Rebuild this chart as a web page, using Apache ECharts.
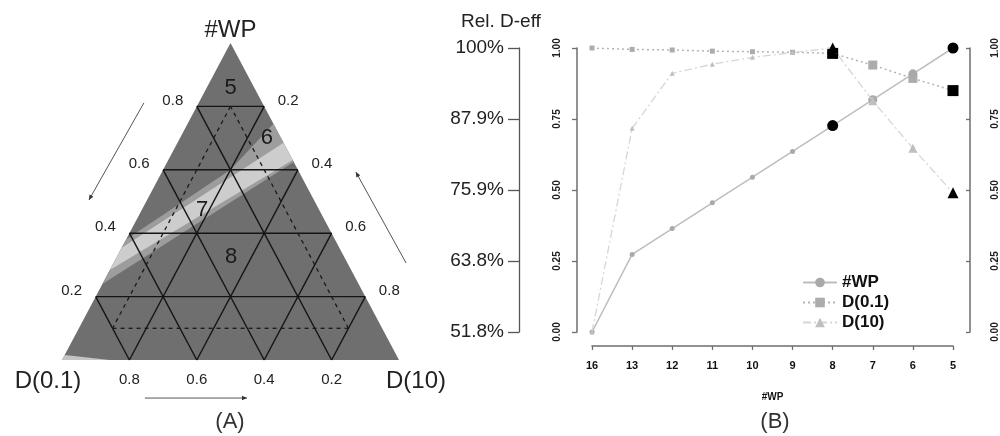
<!DOCTYPE html>
<html><head><meta charset="utf-8">
<script src="https://cdn.jsdelivr.net/npm/echarts@6/dist/echarts.min.js"></script>
<style>html,body{margin:0;padding:0;background:#fff}#c{width:1000px;height:436px}</style>
</head><body><div id="c"></div>
<script>
// ---------- Panel B data ----------
const wpCats = ['16','13','12','11','10','9','8','7','6','5'];
const wpEff  = [0.00, 0.273, 0.364, 0.455, 0.545, 0.636, 0.727, 0.818, 0.909, 1.00];
const d01Eff = [1.00, 0.995, 0.993, 0.989, 0.987, 0.985, 0.981, 0.940, 0.893, 0.850];
const d10Eff = [0.00, 0.717, 0.911, 0.943, 0.967, 0.984, 1.00, 0.814, 0.647, 0.490];
const highlightIdx = [6, 9];
const outerTickLabels = ['51.8%', '63.8%', '75.9%', '87.9%', '100%'];
const seriesNames = ['#WP', 'D(0.1)', 'D(10)'];
// ---------- Panel A data (ternary compositions: [#WP, D(0.1), D(10)]) ----------
const ternTicks = [0.2, 0.4, 0.6, 0.8];
const vertexNames = ['#WP', 'D(0.1)', 'D(10)'];
const bandMid = [[0.745,0,0.255],[0.625,0,0.375],[0.240,0.760,0],[0.379,0.621,0],[0.60,0.20,0.20]];
const bandLight = [[0.685,0,0.315],[0.631,0,0.369],[0.284,0.716,0],[0.353,0.647,0]];
const cornerSliver = [[0,1,0],[0,0.858,0.142],[0.016,0.984,0]];
const feasibleTri = [[0.8,0.1,0.1],[0.1,0.8,0.1],[0.1,0.1,0.8]];
const regionLabels = ['5','6','7','8'];
const regionPos = [[0.858,0.071,0.071],[0.700,0.042,0.258],[0.473,0.348,0.179],[0.325,0.336,0.339]];

// ---------- helpers ----------
const FONT = 'Liberation Sans, Arial, sans-serif';
function tern(p){ return [p[2] + p[0]/2, p[0]]; }

function polySeries(pts, color, z){
  return {type:'custom', xAxisIndex:0, yAxisIndex:0, silent:true, z:z, clip:false,
    data:[tern(pts[0])],
    renderItem:(params, api)=>({type:'polygon', shape:{points: pts.map(p=>api.coord(tern(p)))}, style:{fill:color}})
  };
}
function segSeries(segs, style, z){
  return {type:'custom', xAxisIndex:0, yAxisIndex:0, silent:true, z:z, clip:false,
    data: segs.map(s=>[...tern(s[0]), ...tern(s[1])]),
    encode:{x:[0,2], y:[1,3]},
    renderItem:(params, api)=>{
      const a = api.coord([api.value(0), api.value(1)]);
      const b = api.coord([api.value(2), api.value(3)]);
      return {type:'line', shape:{x1:a[0],y1:a[1],x2:b[0],y2:b[1]}, style:Object.assign({fill:null}, style)};
    }
  };
}
function textSeries(items, fontSize, color, z){
  return {type:'custom', xAxisIndex:0, yAxisIndex:0, silent:true, z:z, clip:false,
    data: items.map(it=>it.pos),
    renderItem:(params, api)=>{
      const it = items[params.dataIndex];
      const c = api.coord(it.pos);
      return {type:'text', x:c[0]+it.dx, y:c[1]+it.dy,
        style:{text:it.text, fill:color, fontSize:fontSize, fontFamily:FONT,
               align:'center', verticalAlign:'middle', textAlign:'center', textVerticalAlign:'middle'}};
    }
  };
}

// grid segments
const gridSegs = [];
ternTicks.forEach(k=>{
  gridSegs.push([[k,1-k,0],[k,0,1-k]]);
  gridSegs.push([[1-k,k,0],[0,k,1-k]]);
  gridSegs.push([[1-k,0,k],[0,1-k,k]]);
});
const dashSegs = [[feasibleTri[0],feasibleTri[1]],[feasibleTri[1],feasibleTri[2]],[feasibleTri[2],feasibleTri[0]]];

// tick labels
const tickItems = [];
ternTicks.forEach(k=>{
  tickItems.push({pos:tern([k,1-k,0]), text:String(k), dx:-24, dy:-6});
  tickItems.push({pos:tern([1-k,0,k]), text:String(k), dx:24, dy:-6});
  tickItems.push({pos:tern([0,k,1-k]), text:String(k), dx:0, dy:20});
});
const vertexItems = [
  {pos:tern([1,0,0]), text:vertexNames[0], dx:0, dy:-13},
  {pos:tern([0,1,0]), text:vertexNames[1], dx:-14, dy:21},
  {pos:tern([0,0,1]), text:vertexNames[2], dx:17, dy:21}
];
const regionItems = regionLabels.map((t,i)=>({pos:tern(regionPos[i]), text:t, dx:0, dy:0}));

// arrows (grid coordinates of panel A)
const arrowSegs = [
  [[0.243,0.811],[0.080,0.505]],
  [[1.021,0.306],[0.872,0.593]],
  [[0.246,-0.12],[0.549,-0.12]]
];
const arrowSeries = {type:'custom', xAxisIndex:0, yAxisIndex:0, silent:true, z:5, clip:false,
  data: arrowSegs.map(s=>[s[0][0],s[0][1],s[1][0],s[1][1]]),
  encode:{x:[0,2], y:[1,3]},
  renderItem:(params, api)=>{
    const a = api.coord([api.value(0), api.value(1)]);
    const b = api.coord([api.value(2), api.value(3)]);
    const ang = Math.atan2(b[1]-a[1], b[0]-a[0]);
    const L = 5, W = 2.2;
    const p1 = [b[0]-L*Math.cos(ang)+W*Math.sin(ang), b[1]-L*Math.sin(ang)-W*Math.cos(ang)];
    const p2 = [b[0]-L*Math.cos(ang)-W*Math.sin(ang), b[1]-L*Math.sin(ang)+W*Math.cos(ang)];
    return {type:'group', children:[
      {type:'line', shape:{x1:a[0],y1:a[1],x2:b[0],y2:b[1]}, style:{stroke:'#555', lineWidth:1}},
      {type:'polygon', shape:{points:[b,p1,p2]}, style:{fill:'#333'}}
    ]};
  }
};

// ---------- Panel B series ----------
function mkData(vals, baseColor){
  return vals.map((v,i)=>{
    const hi = highlightIdx.indexOf(i) >= 0;
    return {value:v, symbolSize: hi ? 11 : (i >= 6 ? 9 : 5),
            itemStyle:{color: hi ? '#000' : baseColor}};
  });
}
const lineSeries = [
  {type:'line', name:seriesNames[0], xAxisIndex:1, yAxisIndex:1, symbol:'circle', symbolSize:7, z:4,
   data: mkData(wpEff, '#a9a9a9'),
   itemStyle:{color:'#a9a9a9'}, lineStyle:{color:'#bdbdbd', width:1.5, type:'solid'}},
  {type:'line', name:seriesNames[1], xAxisIndex:1, yAxisIndex:1, symbol:'rect', symbolSize:7, z:3,
   data: mkData(d01Eff, '#acacac'),
   itemStyle:{color:'#acacac'}, lineStyle:{color:'#b4b4b4', width:1.5, type:[2,3]}},
  {type:'line', name:seriesNames[2], xAxisIndex:1, yAxisIndex:1, symbol:'triangle', symbolSize:7, z:5,
   data: mkData(d10Eff, '#bfbfbf'),
   itemStyle:{color:'#bfbfbf'}, lineStyle:{color:'#d6d6d6', width:1.3, type:[8,3,2,3]}}
];

const option = {
  animation:false,
  backgroundColor:'#fff',
  textStyle:{fontFamily:FONT},
  grid:[
    {left:62, top:43, width:337, height:317},
    {left:592, right:44, top:48, bottom:104}
  ],
  xAxis:[
    {gridIndex:0, type:'value', min:0, max:1, show:false},
    {gridIndex:1, type:'category', data:wpCats, boundaryGap:false, offset:14,
     axisLine:{show:true, onZero:false, lineStyle:{color:'#6e6e6e', width:1.5}},
     axisTick:{show:true, alignWithLabel:true, length:4, lineStyle:{color:'#6e6e6e', width:1.3}},
     axisLabel:{fontSize:11, fontWeight:'bold', color:'#111', margin:14},
     splitLine:{show:false},
     name:'#WP', nameLocation:'middle', nameGap:46,
     nameTextStyle:{fontSize:10, fontWeight:'bold', color:'#111'}}
  ],
  yAxis:[
    {gridIndex:0, type:'value', min:0, max:1, show:false},
    {gridIndex:1, type:'value', min:0, max:1, interval:0.25, position:'left', offset:15,
     axisLine:{show:true, onZero:false, lineStyle:{color:'#6e6e6e', width:1.5}},
     axisTick:{show:true, length:5, lineStyle:{color:'#6e6e6e', width:1.3}},
     axisLabel:{rotate:90, fontSize:10, fontWeight:'bold', color:'#222', margin:15,
                formatter:v=>v.toFixed(2)},
     splitLine:{show:false}},
    {gridIndex:1, type:'value', min:0, max:1, interval:0.25, position:'left', offset:73,
     axisLine:{show:true, onZero:false, lineStyle:{color:'#555', width:1.3}},
     axisTick:{show:true, length:11, lineStyle:{color:'#555', width:1.3}},
     axisLabel:{fontSize:19, color:'#222', margin:15,
                formatter:v=>outerTickLabels[Math.round(v/0.25)]},
     splitLine:{show:false}},
    {gridIndex:1, type:'value', min:0, max:1, interval:0.25, position:'right', offset:17,
     axisLine:{show:true, onZero:false, lineStyle:{color:'#6e6e6e', width:1.5}},
     axisTick:{show:true, inside:true, length:4, lineStyle:{color:'#6e6e6e', width:1.3}},
     axisLabel:{rotate:90, fontSize:10, fontWeight:'bold', color:'#222', margin:20,
                formatter:v=>v.toFixed(2)},
     splitLine:{show:false}}
  ],
  legend:{
    data:seriesNames, orient:'vertical', left:797, top:269,
    itemWidth:34, itemHeight:12, itemGap:3,
    textStyle:{fontSize:17, fontWeight:'bold', color:'#111', fontFamily:FONT, lineHeight:17},
    selectedMode:false
  },
  graphic:[
    {type:'text', left:461, top:12, style:{text:'Rel. D-eff', fontSize:19, fill:'#222', fontFamily:FONT}},
    {type:'text', x:230, y:422, style:{text:'(A)', fontSize:22, fill:'#333', fontFamily:FONT, align:'center', verticalAlign:'middle', textAlign:'center', textVerticalAlign:'middle'}},
    {type:'text', x:775, y:422, style:{text:'(B)', fontSize:22, fill:'#333', fontFamily:FONT, align:'center', verticalAlign:'middle', textAlign:'center', textVerticalAlign:'middle'}}
  ],
  series:[
    polySeries([[1,0,0],[0,1,0],[0,0,1]], '#6f6f6f', 1),
    polySeries(bandMid, '#9d9d9d', 2),
    polySeries(bandLight, '#cdcdcd', 3),
    polySeries(cornerSliver, '#c4c4c4', 3),
    segSeries(gridSegs, {stroke:'#141414', lineWidth:1.4}, 4),
    segSeries(dashSegs, {stroke:'#1a1a1a', lineWidth:1.3, lineDash:[4,4]}, 4),
    textSeries(regionItems, 22, '#1a1a1a', 6),
    textSeries(tickItems, 15, '#222', 6),
    textSeries(vertexItems, 24, '#222', 6),
    arrowSeries,
    ...lineSeries
  ]
};
const chart = echarts.init(document.getElementById('c'), null, {renderer:'canvas'});
chart.setOption(option);
</script></body></html>
